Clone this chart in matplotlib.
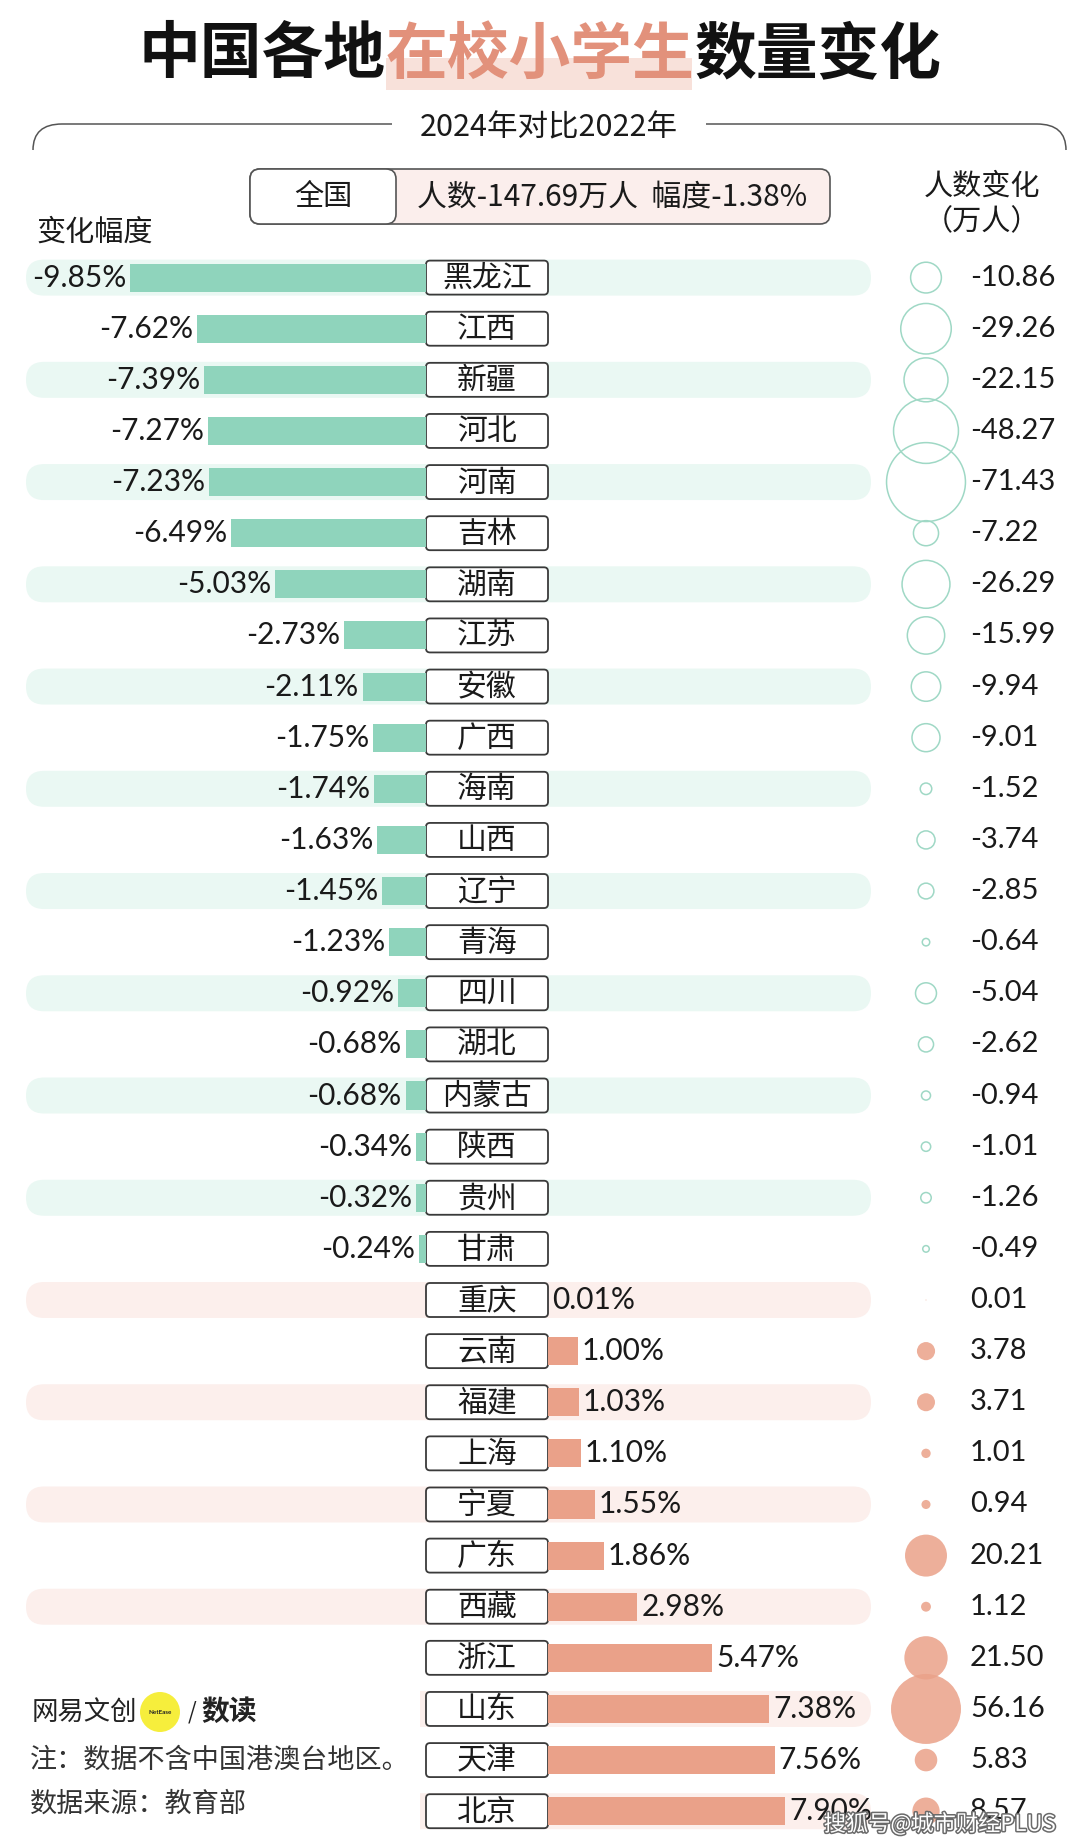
import matplotlib
matplotlib.use('Agg')
import matplotlib.pyplot as plt
from matplotlib.patches import FancyBboxPatch, Rectangle, Circle, PathPatch
from matplotlib.path import Path
import matplotlib.patheffects as pe

# ---------------- data ----------------
provinces = ["黑龙江", "江西", "新疆", "河北", "河南", "吉林", "湖南", "江苏", "安徽", "广西",
             "海南", "山西", "辽宁", "青海", "四川", "湖北", "内蒙古", "陕西", "贵州", "甘肃",
             "重庆", "云南", "福建", "上海", "宁夏", "广东", "西藏", "浙江", "山东", "天津", "北京"]
pct_change = [-9.85, -7.62, -7.39, -7.27, -7.23, -6.49, -5.03, -2.73, -2.11, -1.75,
              -1.74, -1.63, -1.45, -1.23, -0.92, -0.68, -0.68, -0.34, -0.32, -0.24,
              0.01, 1.00, 1.03, 1.10, 1.55, 1.86, 2.98, 5.47, 7.38, 7.56, 7.90]
count_change = [-10.86, -29.26, -22.15, -48.27, -71.43, -7.22, -26.29, -15.99, -9.94, -9.01,
                -1.52, -3.74, -2.85, -0.64, -5.04, -2.62, -0.94, -1.01, -1.26, -0.49,
                0.01, 3.78, 3.71, 1.01, 0.94, 20.21, 1.12, 21.50, 56.16, 5.83, 8.57]

title_parts = ["中国各地", "在校小学生", "数量变化"]
subtitle = "2024年对比2022年"
national_name = "全国"
national_text = "人数-147.69万人  幅度-1.38%"
left_header = "变化幅度"
right_header = ["人数变化", "（万人）"]
brand = ["网易文创", "NetEase", "/", "数读"]
notes = ["注：数据不含中国港澳台地区。", "数据来源：教育部"]
watermark = "搜狐号@城市财经PLUS"

# ---------------- styling ----------------
CJK = ['Noto Sans CJK SC', 'DejaVu Sans']
NUM = ['Lato', 'Noto Sans CJK SC', 'DejaVu Sans']
MINT = '#8fd4bc'
MINT_BAND = '#eaf8f3'
MINT_EDGE = '#9fd8c5'
SALMON = '#eaa189'
PINK_BAND = '#fcefec'
TEXT = '#1a1a1a'

W, H = 1080, 1847
ROW0, ROWSTEP = 277.6, 51.12
BOX_L, BOX_R = 426, 548
PX_PER_PCT = 30.0
CIRCLE_PX = 926
VALUE_PX = 970

def rowpx(i):
    return ROW0 + i * ROWSTEP

fig = plt.figure(figsize=(W / 100, H / 100), dpi=100)
fig.patch.set_facecolor('white')

# pixel axes for decorations
bg = fig.add_axes([0, 0, 1, 1])
bg.set_xlim(0, W)
bg.set_ylim(H, 0)
bg.axis('off')

n = len(provinces)

# background bands on alternating rows
for i in range(n):
    if i % 2 == 0:
        col = MINT_BAND if pct_change[i] < 0 else PINK_BAND
        bg.add_patch(FancyBboxPatch((26, rowpx(i) - 18), 845, 36,
                                    boxstyle="round,pad=0,rounding_size=18",
                                    fc=col, ec='none', zorder=1))

# white area behind the footnotes
bg.add_patch(Rectangle((0, 1690), 420, H - 1690, fc='white', ec='none', zorder=2))

# province label boxes
for i, name in enumerate(provinces):
    bg.add_patch(FancyBboxPatch((BOX_L, rowpx(i) - 17), BOX_R - BOX_L, 34,
                                boxstyle="round,pad=0,rounding_size=4",
                                fc='white', ec='#3a3a3a', lw=1.3, zorder=3))
    bg.text((BOX_L + BOX_R) / 2, rowpx(i) + 1, name, ha='center', va='center',
            fontsize=21.5, family=CJK, color=TEXT, zorder=4)

# title
bg.add_patch(Rectangle((386, 58), 306, 32, fc='#f8e1da', ec='none', zorder=1))
tx = [139, 386, 695]
tcol = ['#111111', '#e2917b', '#111111']
for x, part, c in zip(tx, title_parts, tcol):
    bg.text(x, 55, part, ha='left', va='center', fontsize=44.5, family=CJK,
            fontweight='black', color=c, zorder=3)

# subtitle and decorative lines
bg.text(549, 128, subtitle, ha='center', va='center', fontsize=22, family=CJK, color=TEXT)
lp = Path([(392, 124), (62, 124), (33, 124), (33, 150)],
          [Path.MOVETO, Path.LINETO, Path.CURVE3, Path.CURVE3])
rp = Path([(706, 124), (1037, 124), (1066, 124), (1066, 150)],
          [Path.MOVETO, Path.LINETO, Path.CURVE3, Path.CURVE3])
for p in (lp, rp):
    bg.add_patch(PathPatch(p, fc='none', ec='#555555', lw=1.1))

# national box
bg.add_patch(FancyBboxPatch((250, 169), 580, 55, boxstyle="round,pad=0,rounding_size=10",
                            fc='#fbeeec', ec='#555555', lw=1.2, zorder=2))
bg.add_patch(FancyBboxPatch((250, 169), 146, 55, boxstyle="round,pad=0,rounding_size=10",
                            fc='white', ec='#555555', lw=1.2, zorder=3))
bg.text(323, 197, national_name, ha='center', va='center', fontsize=21, family=CJK,
        color=TEXT, zorder=4)
bg.text(612, 197, national_text, ha='center', va='center', fontsize=21.5, family=CJK,
        color=TEXT, zorder=4)

# column headers
bg.text(36, 233, left_header, ha='left', va='center', fontsize=21, family=CJK, color=TEXT)
bg.text(982, 187, right_header[0], ha='center', va='center', fontsize=21, family=CJK, color=TEXT)
bg.text(982, 222, right_header[1], ha='center', va='center', fontsize=21, family=CJK, color=TEXT)

# brand & notes
bg.text(32, 1712, brand[0], ha='left', va='center', fontsize=19, family=CJK, color='#222222', zorder=5)
bg.add_patch(Circle((160, 1712), 20, fc='#f6ee3c', ec='none', zorder=5))
bg.text(160, 1712, brand[1], ha='center', va='center', fontsize=4.5, family=NUM,
        fontweight='bold', color='#222222', zorder=6)
bg.text(188, 1712, brand[2], ha='left', va='center', fontsize=16, family=CJK, color='#222222', zorder=5)
bg.text(201, 1712, brand[3], ha='left', va='center', fontsize=20, family=CJK,
        fontweight='bold', color='#222222', zorder=5)
bg.text(30, 1760, notes[0], ha='left', va='center', fontsize=19.5, family=CJK, color='#333333', zorder=5)
bg.text(30, 1804, notes[1], ha='left', va='center', fontsize=19.5, family=CJK, color='#333333', zorder=5)

# ---------------- data axes (x in %, y in row index) ----------------
ax = fig.add_axes([0, 0, 1, 1])
ax.patch.set_alpha(0)
ax.axis('off')
ax.set_xlim(-BOX_L / PX_PER_PCT, (W - BOX_L) / PX_PER_PCT)
ax.set_ylim((H - ROW0) / ROWSTEP, -ROW0 / ROWSTEP)

rows = list(range(n))
pos_origin = (BOX_R - BOX_L) / PX_PER_PCT
gap = 4 / PX_PER_PCT

neg_rows = [i for i in rows if pct_change[i] < 0]
pos_rows = [i for i in rows if pct_change[i] >= 0]

ax.barh(neg_rows, [pct_change[i] for i in neg_rows], left=0, height=0.55,
        color=MINT, zorder=2)
ax.barh(pos_rows, [pct_change[i] for i in pos_rows], left=pos_origin, height=0.55,
        color=SALMON, zorder=2)

for i in neg_rows:
    ax.text(pct_change[i] - gap, i, f"{pct_change[i]:.2f}%", ha='right', va='center',
            fontsize=21.5, family=NUM, color=TEXT, zorder=3)
for i in pos_rows:
    ax.text(pos_origin + pct_change[i] + gap, i, f"{pct_change[i]:.2f}%", ha='left',
            va='center', fontsize=21.5, family=NUM, color=TEXT, zorder=3)

# bubbles (area proportional to |change|)
cx = (CIRCLE_PX - BOX_L) / PX_PER_PCT
S_SCALE = 45.2
neg_c = [i for i in rows if count_change[i] < 0]
pos_c = [i for i in rows if count_change[i] >= 0]
ax.scatter([cx] * len(neg_c), neg_c, s=[S_SCALE * abs(count_change[i]) for i in neg_c],
           facecolors='none', edgecolors=MINT_EDGE, linewidths=1.1, zorder=2)
ax.scatter([cx] * len(pos_c), pos_c, s=[S_SCALE * abs(count_change[i]) for i in pos_c],
           facecolors=SALMON, edgecolors='none', alpha=0.85, zorder=2)

vx = (VALUE_PX - BOX_L) / PX_PER_PCT
for i in rows:
    ax.text(vx, i, f"{count_change[i]:.2f}", ha='left', va='center', fontsize=21,
            family=NUM, color=TEXT, zorder=3)

# watermark
fig.text(1056 / W, 1 - 1824 / H, watermark, ha='right', va='center', fontsize=16,
         family=CJK, color='white', zorder=10,
         path_effects=[pe.withStroke(linewidth=2.2, foreground='#6a6a6a')])

fig.savefig('out.png', dpi=100, facecolor='white')
